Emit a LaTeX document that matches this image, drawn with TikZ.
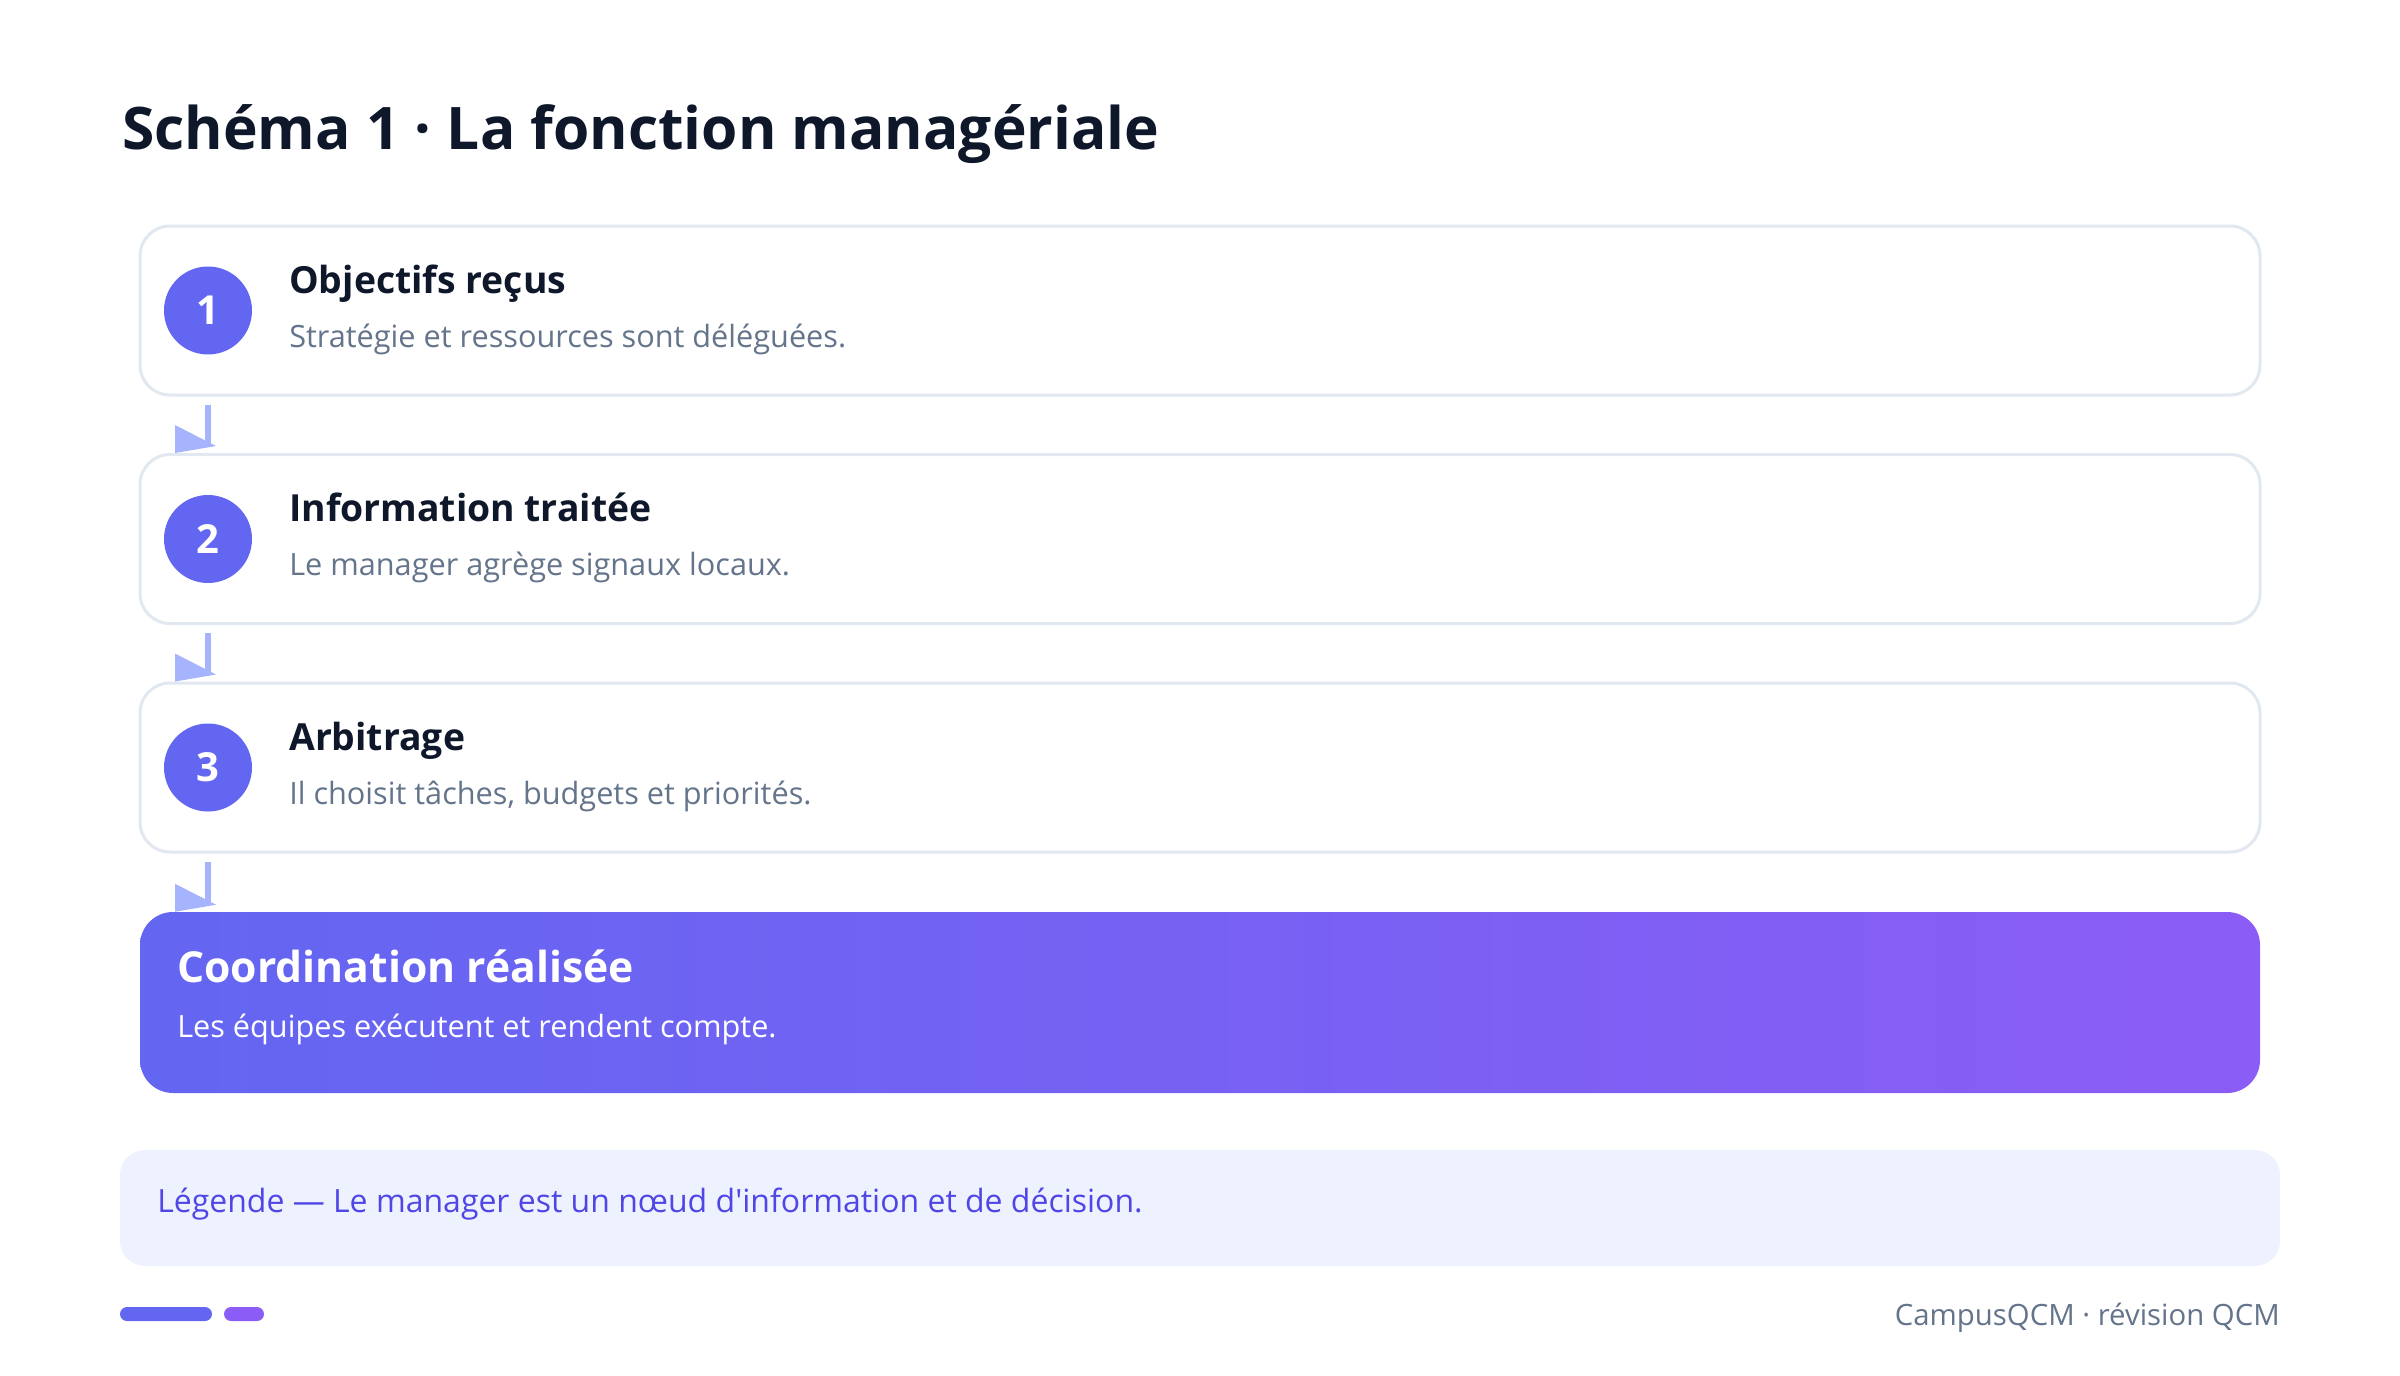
\documentclass[tikz,border=0pt]{standalone}
\usepackage{fontspec}
\setmainfont{Open Sans}[Ligatures=TeXOff]
\usetikzlibrary{calc}

\definecolor{ink}{HTML}{0F172A}
\definecolor{muted}{HTML}{64748B}
\definecolor{cardline}{HTML}{E2E8F0}
\definecolor{indigo}{HTML}{6366F1}
\definecolor{violet}{HTML}{8B5CF6}
\definecolor{flowc}{HTML}{A5B4FC}
\definecolor{legendbg}{HTML}{EEF2FF}
\definecolor{legendink}{HTML}{4F46E5}

\tikzset{
  card/.style={draw=cardline, line width=2.25pt, fill=white, rounded corners=22.5pt,
    minimum width=1590pt, minimum height=126.75pt, inner sep=0pt},
  result/.style={left color=indigo, right color=violet, rounded corners=24.75pt,
    minimum width=1590pt, minimum height=135.75pt, inner sep=0pt},
  badge/.style={circle, fill=indigo, text=white, minimum size=66pt, inner sep=0pt,
    font=\fontsize{30}{34}\selectfont\bfseries},
  heading/.style={anchor=base west, inner sep=0pt, text=ink,
    font=\fontsize{44}{52}\selectfont\bfseries},
  steptitle/.style={anchor=base west, inner sep=0pt, text=ink,
    font=\fontsize{28}{34}\selectfont\bfseries},
  stepnote/.style={anchor=base west, inner sep=0pt, text=muted,
    font=\fontsize{23}{28}\selectfont},
  flow/.style={line width=4.5pt, draw=flowc, fill=flowc},
}

\begin{document}
\begin{tikzpicture}[x=0.75pt, y=-0.75pt]
  \fill[white] (0,0) rectangle (2400,1375);
  \useasboundingbox (0,0) rectangle (2400,1375);

  \node[heading] (title) at (122,149) {Schéma 1 · La fonction managériale};

  % etapes
  \node[card] (b1) at (1200,310.5) {};
  \node[badge] (n1) at (208,310.5) {1};
  \node[steptitle] (t1) at (289,293) {Objectifs reçus};
  \node[stepnote] (s1) at (289,347) {Stratégie et ressources sont déléguées.};

  \node[card] (b2) at (1200,539) {};
  \node[badge] (n2) at (208,539) {2};
  \node[steptitle] (t2) at (289,521.5) {Information traitée};
  \node[stepnote] (s2) at (289,575.5) {Le manager agrège signaux locaux.};

  \node[card] (b3) at (1200,767.5) {};
  \node[badge] (n3) at (208,767.5) {3};
  \node[steptitle] (t3) at (289,750) {Arbitrage};
  \node[stepnote] (s3) at (289,804) {Il choisit tâches, budgets et priorités.};

  \node[result] (b4) at (1200,1002.5) {};
  \node[steptitle, text=white, font=\fontsize{32}{38}\selectfont\bfseries] (t4) at (177,982)
    {Coordination réalisée};
  \node[stepnote, text=white] (s4) at (177,1037) {Les équipes exécutent et rendent compte.};

  \begin{scope}[flow]
    \draw ($(b1.south -| n1)+(0,8)$) -- ($(b2.north -| n2)+(0,-7)$) coordinate (e1);
    \fill (e1) ++(-33,-21) -- ++(0,28) -- ++(41,-7) -- cycle;
    \draw ($(b2.south -| n2)+(0,8)$) -- ($(b3.north -| n3)+(0,-7)$) coordinate (e2);
    \fill (e2) ++(-33,-21) -- ++(0,28) -- ++(41,-7) -- cycle;
    \draw ($(b3.south -| n3)+(0,8)$) -- ($(b4.north -| n3)+(0,-7)$) coordinate (e3);
    \fill (e3) ++(-33,-21) -- ++(0,28) -- ++(41,-7) -- cycle;
  \end{scope}

  % legende
  \node[fill=legendbg, rounded corners=18.75pt, minimum width=1620pt, minimum height=87pt,
    inner sep=0pt] (legend) at (1200,1208) {};
  \node[stepnote, text=legendink, font=\fontsize{24}{29}\selectfont] (lt) at (157,1212)
    {Légende — Le manager est un nœud d'information et de décision.};

  % pied de page
  \fill[indigo, rounded corners=5.25pt] (120,1307) rectangle (212,1321);
  \fill[violet, rounded corners=5.25pt] (224,1307) rectangle (264,1321);
  \node[anchor=base east, inner sep=0pt, text=muted, font=\fontsize{22}{26}\selectfont]
    (foot) at (2280,1325) {CampusQCM · révision QCM};
\end{tikzpicture}
\end{document}
